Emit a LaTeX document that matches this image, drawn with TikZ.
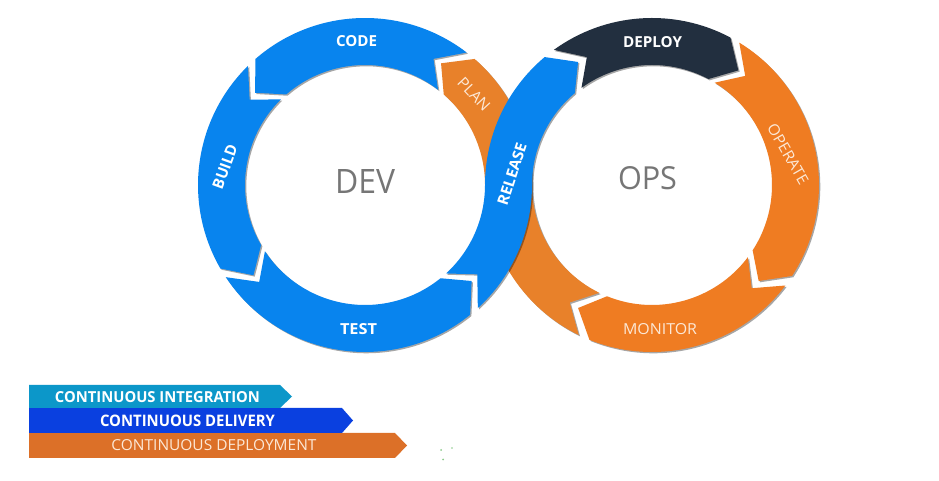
\documentclass[tikz,border=0pt]{standalone}
\usepackage{fontspec}
\setmainfont{Open Sans}
\usepackage{graphicx}
\usetikzlibrary{shadows}
\definecolor{segblue}{HTML}{0884EE}
\definecolor{segnavy}{HTML}{222F3F}
\definecolor{segorange}{HTML}{EF7C22}
\definecolor{planorange}{HTML}{E8812A}
\definecolor{cream}{HTML}{FCE8D6}
\definecolor{midgray}{HTML}{767676}
\definecolor{citeal}{HTML}{0C97C9}
\definecolor{cdblue}{HTML}{0A40E0}
\definecolor{cdorange}{HTML}{DC7028}
\def\Ro{167pt}
\def\Ri{120pt}
\def\Rm{143.5pt}
\newcommand\ringseg[6]{%
  \fill[#1] ([shift={(#2)}]#3:\Ro) arc[start angle=#3,end angle=#5,radius=\Ro]
    -- ([shift={(#2)}]#6:\Rm) -- ([shift={(#2)}]#5:\Ri)
    arc[start angle=#5,end angle=#3,radius=\Ri]
    -- ([shift={(#2)}]#4:\Rm) -- cycle;}
\newcommand\lbl[2]{\resizebox{#1}{11pt}{#2}}
\tikzset{
  seg/.style={drop shadow={shadow xshift=1.3pt,shadow yshift=-1.3pt,opacity=0.35,fill=black}},
  boldlbl/.style={inner sep=0pt,text=white,font=\bfseries},
  lightlbl/.style={inner sep=0pt,text=cream},
  biglbl/.style={inner sep=0pt,text=midgray},
  banner/.style={inner sep=0pt}
}
\begin{document}
\begin{tikzpicture}[x=1pt,y=1pt]
\useasboundingbox (0,0) rectangle (939,481);
\fill[white] (0,0) rectangle (939,481);
\coordinate (dc) at (365,296);
\coordinate (oc) at (652,296);
% DEV ring
\ringseg{segblue,seg}{dc}{52.5}{61.5}{131}{140}
\ringseg{segblue,seg}{dc}{134.5}{143.5}{210}{219}
\ringseg{segblue,seg}{dc}{213.5}{222.5}{309}{318}
% OPS ring
\ringseg{segnavy,seg}{oc}{126}{117}{62}{53}
\ringseg{segorange,seg}{oc}{58.5}{49.5}{-33}{-42}
\ringseg{segorange,seg}{oc}{-37}{-46}{-112}{-121}
% PLAN (crossing, below)
\fill[planorange,seg] ([shift={(oc)}]244:\Ro) arc[start angle=244,end angle=180,radius=\Ro]
  arc[start angle=0,end angle=49,radius=\Ri]
  -- ([shift={(dc)}]58:\Rm) -- ([shift={(dc)}]49:\Ro)
  arc[start angle=49,end angle=0,radius=\Ro]
  arc[start angle=180,end angle=244,radius=\Ri]
  -- ([shift={(oc)}]235:\Rm) -- cycle;
% RELEASE (crossing, above)
\fill[segblue,seg] ([shift={(dc)}]-47.5:\Ro) arc[start angle=-47.5,end angle=0,radius=\Ro]
  arc[start angle=180,end angle=130,radius=\Ri]
  -- ([shift={(oc)}]121:\Rm) -- ([shift={(oc)}]130:\Ro)
  arc[start angle=130,end angle=180,radius=\Ro]
  arc[start angle=0,end angle=-47.5,radius=\Ri]
  -- ([shift={(dc)}]-38.5:\Rm) -- cycle;
% labels
\node[boldlbl] (code) at (356.5,439.5) {\lbl{41pt}{CODE}};
\node[boldlbl,rotate=70] (build) at (225,314) {\lbl{46pt}{BUILD}};
\node[boldlbl] (test) at (358.5,152) {\lbl{37pt}{TEST}};
\node[boldlbl,rotate=72] (release) at (512,307) {\lbl{65pt}{RELEASE}};
\node[lightlbl,rotate=-47] (plan) at (474,387) {\lbl{40pt}{PLAN}};
\node[boldlbl] (deploy) at (652.5,438.5) {\lbl{59pt}{DEPLOY}};
\node[lightlbl,rotate=-60] (operate) at (788,327) {\lbl{67pt}{OPERATE}};
\node[lightlbl] (monitor) at (660,152) {\lbl{74pt}{MONITOR}};
\node[biglbl] (dev) at (365,299) {\resizebox{60pt}{24pt}{DEV}};
\node[biglbl] (ops) at (647.5,302.5) {\resizebox{59pt}{23pt}{OPS}};
% banners
\fill[cdorange] (29,48) -- (395,48) -- (407,35.5) -- (395,23) -- (29,23) -- cycle;
\fill[cdblue] (29,73) -- (342,73) -- (353,60.5) -- (342,48) -- (29,48) -- cycle;
\fill[citeal] (29,96) -- (280,96) -- (292,84.5) -- (280,73) -- (29,73) -- cycle;
\node[boldlbl] (ci) at (157.5,84.3) {\resizebox{205pt}{11pt}{CONTINUOUS INTEGRATION}};
\node[boldlbl] (cd) at (187.5,60) {\resizebox{175pt}{11.5pt}{CONTINUOUS DELIVERY}};
\node[banner,text=cream] (cdep) at (214,35.5) {\resizebox{205pt}{11pt}{CONTINUOUS DEPLOYMENT}};
% tiny green marks
\fill[green!55!black!45] (441,31) circle[radius=1pt];
\fill[green!55!black!45] (452,33) circle[radius=0.8pt];
\fill[green!55!black!45] (443,21.5) circle[radius=1pt];
\end{tikzpicture}
\end{document}
